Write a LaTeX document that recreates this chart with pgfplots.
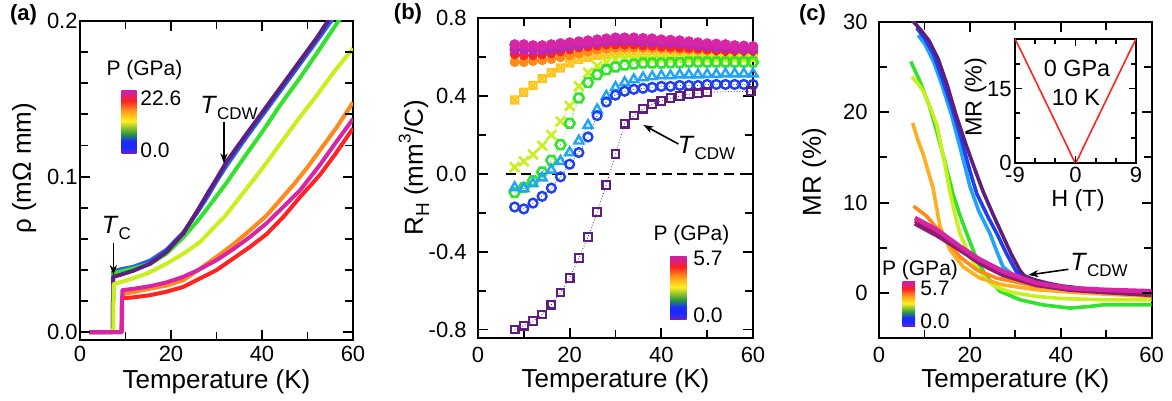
\documentclass[border=0pt]{standalone}
\usepackage{fontspec}
\setmainfont{Liberation Sans}
\usepackage{pgfplots}
\pgfplotsset{compat=1.18}
\usetikzlibrary{arrows.meta}

% line colours
\definecolor{cpur}{HTML}{5E1F7E}
\definecolor{cblu}{HTML}{2260EE}
\definecolor{cdblu}{HTML}{1F3FF0}
\definecolor{clbl}{HTML}{20A4F8}
\definecolor{cgrn}{HTML}{33E22C}
\definecolor{cyg}{HTML}{C8F01C}
\definecolor{cgold}{HTML}{FFC41E}
\definecolor{corg}{HTML}{FF8A1A}
\definecolor{clorg}{HTML}{FFAE22}
\definecolor{cred}{HTML}{FF2424}
\definecolor{cmag}{HTML}{D626A6}
\definecolor{cmgp}{HTML}{B52AB8}
\definecolor{cdmag}{HTML}{8E1C72}
% colour bar
\definecolor{cbv}{HTML}{7A20B8}
\definecolor{cbb}{HTML}{1A2AFF}
\definecolor{cbg}{HTML}{2A9A3A}
\definecolor{cby}{HTML}{FFF020}
\definecolor{cbo}{HTML}{FF9A1A}
\definecolor{cbr}{HTML}{FF2020}
\definecolor{cbm}{HTML}{D0209A}
\pgfdeclareverticalshading{pbar}{100bp}{color(0bp)=(cbv); color(25bp)=(cbv); color(30bp)=(cbb); color(35bp)=(cbb);
  color(41bp)=(cbg); color(51bp)=(cby); color(59bp)=(cbo); color(67bp)=(cbr); color(73bp)=(cbm); color(100bp)=(cbm)}

\pgfdeclareplotmark{hexa}{%
  \pgfpathmoveto{\pgfpointpolar{0}{\pgfplotmarksize}}%
  \pgfpathlineto{\pgfpointpolar{60}{\pgfplotmarksize}}%
  \pgfpathlineto{\pgfpointpolar{120}{\pgfplotmarksize}}%
  \pgfpathlineto{\pgfpointpolar{180}{\pgfplotmarksize}}%
  \pgfpathlineto{\pgfpointpolar{240}{\pgfplotmarksize}}%
  \pgfpathlineto{\pgfpointpolar{300}{\pgfplotmarksize}}%
  \pgfpathclose\pgfusepathqstroke}
\pgfdeclareplotmark{sqx}{%
  \pgfpathrectangle{\pgfpoint{-\pgfplotmarksize}{-\pgfplotmarksize}}{\pgfpoint{2\pgfplotmarksize}{2\pgfplotmarksize}}%
  \pgfpathmoveto{\pgfpoint{-\pgfplotmarksize}{-\pgfplotmarksize}}\pgfpathlineto{\pgfpoint{\pgfplotmarksize}{\pgfplotmarksize}}%
  \pgfpathmoveto{\pgfpoint{-\pgfplotmarksize}{\pgfplotmarksize}}\pgfpathlineto{\pgfpoint{\pgfplotmarksize}{-\pgfplotmarksize}}%
  \pgfusepathqstroke}

\newcommand{\Tsub}[1]{\textit{T}\raisebox{-0.45ex}{\fontsize{8.5}{9}\selectfont #1}}

\tikzset{tk/.style={black, line width=0.9pt}}

\pgfplotsset{
  panel/.style={
    scale only axis, anchor=south west,
    xmin=0, xmax=60,
    xtick={0,20,40,60}, xticklabels={0,20,40,60},
    minor xtick={10,30,50},
    tick align=inside, major tick length=5pt, minor tick length=4pt,
    tick style={black, line width=0.9pt},
    axis line style={line width=1pt},
    tick label style={font=\fontsize{11}{12}\selectfont},
    xlabel={Temperature (K)},
  },
  rline/.style={line width=2pt, line join=round},
  cline/.style={line width=1.8pt, line join=round},
  hall/.style={densely dotted, line width=0.4pt},
}

\begin{document}
\begin{tikzpicture}
\path[use as bounding box] (0,0) rectangle (586pt,200.5pt);

% ---------------- (a) resistivity
\begin{axis}[panel, at={(40pt,30.5pt)}, width=136.5pt, height=159.5pt,
  ymin=-0.005, ymax=0.2, ytick={0,0.1,0.2}, yticklabels={0.0,0.1,0.2},
  minor ytick={0.02,0.04,0.06,0.08,0.12,0.14,0.16,0.18},
  yticklabel style={inner xsep=0pt, xshift=-1pt},
  xticklabel style={inner ysep=0pt, yshift=-3pt},
  ylabel={ρ (mΩ mm)},
  xlabel style={at={(axis description cs:0.5,-0.130)}, anchor=center, font=\fontsize{13}{15}\selectfont},
  ylabel style={at={(axis description cs:-0.205,0.538)}, anchor=center, font=\fontsize{13}{15}\selectfont},
]
\addplot[rline, cblu] coordinates {(2,0) (7.2,0) (7.3,0.039) (9,0.0405) (11.7,0.042) (15.4,0.046) (19,0.053) (22.7,0.064) (26,0.078) (28,0.087) (30,0.097) (32.2,0.107) (36,0.123) (40,0.139) (44,0.155) (48,0.171) (52,0.187) (55.2,0.2) (57,0.207)};
\addplot[rline, cgrn] coordinates {(2,0) (7.2,0) (7.3,0.038) (9,0.039) (11.7,0.041) (15.4,0.044) (19,0.0505) (22.7,0.061) (26.4,0.0735) (29,0.0835) (32.2,0.096) (36,0.112) (40,0.1285) (44,0.146) (48,0.162) (52,0.179) (56.8,0.2) (58,0.205)};
\addplot[rline, cpur] coordinates {(2,0) (7.2,0) (7.3,0.0356) (9,0.037) (11.7,0.0395) (15.4,0.044) (19,0.0516) (22.7,0.0635) (26,0.079) (28,0.089) (30,0.0985) (32.2,0.1095) (36,0.125) (40,0.141) (44,0.157) (48,0.173) (52,0.189) (54.5,0.2) (56,0.206)};
\addplot[rline, cyg] coordinates {(2,0) (7.3,0) (7.4,0.031) (10,0.033) (15,0.038) (19,0.044) (23,0.051) (26.4,0.058) (29,0.066) (32,0.075) (36,0.090) (40,0.105) (44,0.121) (48,0.137) (52,0.152) (56,0.168) (60,0.1824)};
\addplot[rline, corg] coordinates {(2,0) (9.2,0) (9.3,0.0245) (12,0.026) (15.4,0.028) (19,0.030) (22.7,0.0334) (26,0.040) (30,0.0484) (33.5,0.056) (37.4,0.0656) (41,0.075) (44,0.085) (47,0.095) (50,0.106) (53,0.118) (56.5,0.132) (60,0.1477)};
\addplot[rline, cred] coordinates {(2,0) (9.1,0) (9.2,0.0217) (12,0.0225) (15.4,0.0238) (19,0.026) (22.7,0.0291) (26,0.034) (30,0.0399) (33.5,0.047) (37.4,0.0549) (41,0.063) (44.7,0.0741) (48.4,0.087) (52.7,0.101) (56,0.114) (60,0.131)};
\addplot[rline, cmag] coordinates {(2,0) (9.2,0) (9.3,0.027) (12,0.028) (15.4,0.0296) (19,0.032) (22.7,0.0356) (26,0.040) (30,0.0463) (33.5,0.053) (37.4,0.0613) (41,0.070) (44.7,0.0806) (48.4,0.0913) (52.7,0.1074) (56,0.121) (60,0.137)};
% tick marks on all four sides
\pgfplotsinvokeforeach{20,40}{\draw[tk] (axis cs:#1,-0.005) -- ++(0pt,5pt); \draw[tk] (axis cs:#1,0.2) -- ++(0pt,-5pt);}
\pgfplotsinvokeforeach{10,30,50}{\draw[tk] (axis cs:#1,-0.005) -- ++(0pt,4pt); \draw[tk] (axis cs:#1,0.2) -- ++(0pt,-4pt);}
\pgfplotsinvokeforeach{0,0.1}{\draw[tk] (axis cs:0,#1) -- ++(5pt,0pt); \draw[tk] (axis cs:60,#1) -- ++(-5pt,0pt);}
\pgfplotsinvokeforeach{0.02,0.04,0.06,0.08,0.12,0.14,0.16,0.18}{\draw[tk] (axis cs:0,#1) -- ++(4pt,0pt); \draw[tk] (axis cs:60,#1) -- ++(-4pt,0pt);}
\end{axis}

% ---------------- (b) Hall coefficient
\begin{axis}[panel, at={(239pt,31.35pt)}, width=137.5pt, height=160pt,
  ymin=-0.845, ymax=0.8, ytick={-0.8,-0.4,0,0.4,0.8}, yticklabels={-0.8,-0.4,0.0,0.4,0.8},
  minor ytick={-0.6,-0.2,0.2,0.6},
  yticklabel style={inner xsep=0pt, xshift=-5.5pt},
  xticklabel style={inner ysep=0pt, yshift=-4pt},
  ylabel={R\raisebox{-0.45ex}{\fontsize{9.5}{10}\selectfont H} (mm\raisebox{0.9ex}{\fontsize{8.5}{9}\selectfont 3}/C)},
  xlabel style={at={(axis description cs:0.5,-0.134)}, anchor=center, font=\fontsize{13}{15}\selectfont},
  ylabel style={at={(axis description cs:-0.233,0.533)}, anchor=center, font=\fontsize{13}{15}\selectfont},
]
\addplot[hall, cgold, mark=sqx, mark size=1.8pt, mark options={solid, line width=1pt}] coordinates {(8,0.38) (10,0.42) (12,0.455) (14,0.49) (16,0.52) (18,0.545) (20,0.57) (22,0.59) (24,0.60) (26,0.61) (28,0.615) (30,0.62) (32,0.62) (34,0.62) (36,0.62) (38,0.62) (40,0.62) (42,0.62) (44,0.615) (46,0.615) (48,0.61) (50,0.61) (52,0.61) (54,0.605) (56,0.605) (58,0.60) (60,0.60)};
\addplot[hall, corg, mark=*, mark size=2.3pt, mark options={solid}] coordinates {(8,0.575) (10,0.575) (12,0.58) (14,0.585) (16,0.59) (18,0.60) (20,0.61) (22,0.62) (24,0.63) (26,0.64) (28,0.645) (30,0.65) (32,0.65) (34,0.65) (36,0.65) (38,0.648) (40,0.645) (42,0.643) (44,0.64) (46,0.638) (48,0.635) (50,0.633) (52,0.63) (54,0.628) (56,0.625) (58,0.622) (60,0.62)};
\addplot[hall, cred, mark=*, mark size=2.3pt, mark options={solid}] coordinates {(8,0.615) (10,0.61) (12,0.61) (14,0.615) (16,0.62) (18,0.63) (20,0.64) (22,0.65) (24,0.655) (26,0.66) (28,0.665) (30,0.665) (32,0.665) (34,0.665) (36,0.66) (38,0.66) (40,0.655) (42,0.653) (44,0.65) (46,0.648) (48,0.645) (50,0.64) (52,0.635) (54,0.63) (56,0.625) (58,0.61) (60,0.625)};
\addplot[hall, cmgp, mark=*, mark size=2.4pt, mark options={solid}] coordinates {(8,0.64) (10,0.638) (12,0.635) (14,0.637) (16,0.64) (18,0.648) (20,0.655) (22,0.662) (24,0.67) (26,0.675) (28,0.68) (30,0.683) (32,0.685) (34,0.683) (36,0.68) (38,0.678) (40,0.675) (42,0.672) (44,0.67) (46,0.665) (48,0.66) (50,0.655) (52,0.65) (54,0.648) (56,0.645) (58,0.642) (60,0.64)};
\addplot[hall, cmag, mark=*, mark size=2.5pt, mark options={solid}] coordinates {(8,0.665) (10,0.665) (12,0.66) (14,0.66) (16,0.665) (18,0.67) (20,0.675) (22,0.68) (24,0.685) (26,0.69) (28,0.695) (30,0.70) (32,0.70) (34,0.70) (36,0.697) (38,0.695) (40,0.69) (42,0.688) (44,0.685) (46,0.68) (48,0.675) (50,0.67) (52,0.668) (54,0.665) (56,0.66) (58,0.658) (60,0.655)};
\addplot[hall, cyg, mark=x, mark size=3.4pt, mark options={solid, line width=1.3pt}] coordinates {(8,0.035) (10,0.065) (12,0.10) (14,0.145) (16,0.20) (18,0.27) (20,0.35) (22,0.45) (24,0.52) (26,0.555) (28,0.575) (30,0.585) (32,0.59) (34,0.59) (36,0.59) (38,0.59) (40,0.59) (42,0.59) (44,0.59) (46,0.59) (48,0.59) (50,0.59) (52,0.59) (54,0.59) (56,0.59) (58,0.59) (60,0.59)};
\addplot[hall, cgrn, mark=hexa, mark size=2.5pt, mark options={solid, line width=1.3pt}] coordinates {(8,-0.095) (10,-0.07) (12,-0.035) (14,0.01) (16,0.07) (18,0.15) (20,0.26) (22,0.39) (24,0.47) (26,0.51) (28,0.535) (30,0.55) (32,0.56) (34,0.565) (36,0.57) (38,0.57) (40,0.57) (42,0.572) (44,0.572) (46,0.575) (48,0.575) (50,0.575) (52,0.575) (54,0.575) (56,0.575) (58,0.575) (60,0.575)};
\addplot[hall, clbl, mark=triangle, mark size=2.6pt, mark options={solid, line width=1.2pt}] coordinates {(8,-0.07) (10,-0.075) (12,-0.05) (14,-0.02) (16,0.02) (18,0.065) (20,0.11) (22,0.17) (24,0.25) (26,0.33) (28,0.40) (30,0.445) (32,0.47) (34,0.485) (36,0.495) (38,0.50) (40,0.505) (42,0.505) (44,0.51) (46,0.51) (48,0.51) (50,0.512) (52,0.512) (54,0.515) (56,0.515) (58,0.515) (60,0.515)};
\addplot[hall, cdblu, mark=o, mark size=2.2pt, mark options={solid, line width=1.2pt}] coordinates {(8,-0.17) (10,-0.18) (12,-0.15) (14,-0.115) (16,-0.073) (18,-0.015) (20,0.05) (22,0.11) (24,0.19) (26,0.30) (28,0.37) (30,0.405) (32,0.425) (34,0.435) (36,0.44) (38,0.445) (40,0.45) (42,0.45) (44,0.455) (46,0.455) (48,0.455) (50,0.46) (52,0.46) (54,0.46) (56,0.46) (58,0.46) (60,0.46)};
\addplot[hall, cpur, mark=square, mark size=1.9pt, mark options={solid, line width=1.1pt}] coordinates {(8,-0.80) (10,-0.78) (12,-0.757) (14,-0.723) (16,-0.672) (18,-0.61) (20,-0.535) (22,-0.432) (24,-0.324) (26,-0.196) (28,-0.056) (30,0.102) (32,0.258) (34,0.30) (36,0.335) (38,0.358) (40,0.375) (42,0.39) (44,0.40) (46,0.41) (48,0.415) (50,0.42) (59.5,0.425)};
\addplot[black, line width=1.1pt, dash pattern=on 5pt off 2.8pt] coordinates {(6,0) (58,0)};
\pgfplotsinvokeforeach{20,40}{\draw[tk] (axis cs:#1,-0.845) -- ++(0pt,5pt); \draw[tk] (axis cs:#1,0.8) -- ++(0pt,-5pt);}
\pgfplotsinvokeforeach{10,30,50}{\draw[tk] (axis cs:#1,-0.845) -- ++(0pt,4pt); \draw[tk] (axis cs:#1,0.8) -- ++(0pt,-4pt);}
\pgfplotsinvokeforeach{-0.8,-0.4,0,0.4}{\draw[tk] (axis cs:0,#1) -- ++(5pt,0pt); \draw[tk] (axis cs:60,#1) -- ++(-5pt,0pt);}
\pgfplotsinvokeforeach{-0.6,-0.2,0.2,0.6}{\draw[tk] (axis cs:0,#1) -- ++(4pt,0pt); \draw[tk] (axis cs:60,#1) -- ++(-4pt,0pt);}
\end{axis}

% ---------------- (c) magnetoresistance
\begin{axis}[panel, at={(439.5pt,31.35pt)}, width=136.35pt, height=158.3pt,
  ymin=-5, ymax=30, ytick={0,10,20,30}, yticklabels={0,10,20,30},
  minor ytick={5,15,25},
  yticklabel style={inner xsep=0pt, xshift=-5.5pt},
  xticklabel style={inner ysep=0pt, yshift=-4pt},
  ylabel={MR (\%)},
  xlabel style={at={(axis description cs:0.5,-0.133)}, anchor=center, font=\fontsize{13}{15}\selectfont},
  ylabel style={at={(axis description cs:-0.238,0.525)}, anchor=center, font=\fontsize{13}{15}\selectfont},
]
\addplot[cline, cgrn] coordinates {(7,25.6) (9,23.4) (11,20.8) (12.7,17.9) (14.5,14.5) (16.3,10.9) (17.8,8.6) (19.3,6.6) (21.5,3.7) (23.7,1.8) (26.6,0.2) (31,-0.74) (36,-1.3) (42,-1.66) (46,-1.5) (49.3,-1.3) (55,-1.3) (60,-1.3)};
\addplot[cline, cyg] coordinates {(7.2,23.9) (8.5,23.2) (9.75,22.3) (11.2,20.6) (12.7,18.6) (14.2,15.0) (15.6,11.2) (16.8,8.5) (17.8,6.6) (20,4.0) (23,1.8) (25,0.9) (27.3,0.37) (30,0) (34.7,-0.37) (40,-0.6) (49.3,-0.74) (60,-0.74)};
\addplot[cline, clorg] coordinates {(7.4,18.8) (8.5,17.0) (9.75,15.3) (11.9,11.6) (13.4,7.4) (15.6,4.8) (18.5,2.9) (22.2,1.65) (27.3,0.9) (34.7,0.37) (45,0) (60,-0.37)};
\addplot[cline, corg] coordinates {(7.6,9.6) (10.5,8.5) (14.2,6.3) (17.8,4.0) (21.4,2.6) (25.9,1.65) (34.7,0.74) (45,0.3) (60,0)};
\addplot[cline, clbl] coordinates {(8.6,28.5) (10,27.6) (12,25.6) (14,22.8) (16,19.6) (18,15.8) (20,11.8) (22,9.0) (24.4,6.6) (26,4.5) (27.3,2.9) (29.5,2.0) (32,1.4) (36,0.9) (40,0.6) (45,0.4) (50,0.2) (55,0.1) (60,0)};
\addplot[cline, cdblu] coordinates {(8.3,29.3) (10,28.2) (12,26.4) (14,23.6) (16,20.6) (18,17.2) (20,13.5) (21.5,11.0) (24,8.4) (26,6.5) (28,4.4) (30.3,2.3) (33.2,1.5) (36,1.1) (40,0.7) (45,0.45) (50,0.3) (55,0.15) (60,0.05)};
\addplot[cline, cpur] coordinates {(7.2,30.2) (9,29.2) (11,27.9) (13,25.9) (15,23.0) (17,19.6) (19,16.6) (21,13.8) (23,11.1) (25,8.8) (27,6.6) (29,4.4) (31,2.5) (32,1.9) (34,1.5) (37,1.1) (40,0.8) (45,0.5) (50,0.3) (55,0.2) (60,0.1)};
\addplot[line width=2.3pt, cred] coordinates {(7.9,8.0) (12.7,6.7) (17.8,5.0) (22.2,3.5) (27.3,2.2) (34.7,1.0) (42,0.45) (50,0.2) (60,0.0)};
\addplot[line width=2.3pt, cdmag] coordinates {(7.9,7.7) (12.7,6.4) (17.8,4.8) (22.2,3.3) (27.3,2.0) (34.7,0.9) (42,0.37) (50,0.1) (60,-0.2)};
\addplot[line width=2.3pt, cmag] coordinates {(7.9,8.3) (12.7,7.0) (17.8,5.15) (22.2,3.7) (27.3,2.4) (34.7,1.1) (42,0.55) (50,0.35) (60,0.2)};
\pgfplotsinvokeforeach{20,40}{\draw[tk] (axis cs:#1,-5) -- ++(0pt,5pt); \draw[tk] (axis cs:#1,30) -- ++(0pt,-5pt);}
\pgfplotsinvokeforeach{10,30,50}{\draw[tk] (axis cs:#1,-5) -- ++(0pt,4pt); \draw[tk] (axis cs:#1,30) -- ++(0pt,-4pt);}
\pgfplotsinvokeforeach{0,10,20}{\draw[tk] (axis cs:0,#1) -- ++(5pt,0pt); \draw[tk] (axis cs:60,#1) -- ++(-5pt,0pt);}
\pgfplotsinvokeforeach{5,15,25}{\draw[tk] (axis cs:0,#1) -- ++(4pt,0pt); \draw[tk] (axis cs:60,#1) -- ++(-4pt,0pt);}
\end{axis}

% inset of (c)
\begin{axis}[scale only axis, anchor=south west, at={(507.5pt,119pt)}, width=60.5pt, height=62pt,
  xmin=-9, xmax=9, ymin=0, ymax=25,
  xtick={-9,0,9}, xticklabels={-9,0,9}, minor xtick={-6,-3,3,6},
  ytick={0,15}, yticklabels={0,15}, minor ytick={5,10,20},
  tick align=inside, major tick length=3.5pt, minor tick length=2.5pt,
  axis line style={line width=0.9pt}, tick style={black, line width=0.8pt},
  tick label style={font=\fontsize{11}{12}\selectfont},
  yticklabel style={inner xsep=0pt, xshift=-1.5pt},
  xticklabel style={inner ysep=0pt, yshift=-2pt},
  xlabel={H (T)}, ylabel={MR (\%)},
  xlabel style={at={(axis description cs:0.52,-0.298)}, anchor=center, font=\fontsize{11.7}{13}\selectfont},
  ylabel style={at={(axis description cs:-0.325,0.532)}, anchor=center, font=\fontsize{11.7}{13}\selectfont},
  axis background/.style={fill=white},
]
\addplot[cred, line width=0.8pt] coordinates {(-9,25) (-8,22.3) (-7,19.5) (-6,16.7) (-5,13.9) (-4,11.1) (-3,8.3) (-2,5.5) (-1,2.7) (-0.5,1.2) (0,0) (0.5,1.2) (1,2.7) (2,5.5) (3,8.3) (4,11.1) (5,13.9) (6,16.7) (7,19.5) (8,22.3) (9,25)};
\pgfplotsinvokeforeach{0}{\draw[tk] (axis cs:#1,0) -- ++(0pt,3.5pt); \draw[tk] (axis cs:#1,25) -- ++(0pt,-3.5pt);}
\pgfplotsinvokeforeach{-6,-3,3,6}{\draw[tk] (axis cs:#1,0) -- ++(0pt,2.5pt); \draw[tk] (axis cs:#1,25) -- ++(0pt,-2.5pt);}
\pgfplotsinvokeforeach{15}{\draw[tk] (axis cs:-9,#1) -- ++(3.5pt,0pt); \draw[tk] (axis cs:9,#1) -- ++(-3.5pt,0pt);}
\pgfplotsinvokeforeach{5,10,20}{\draw[tk] (axis cs:-9,#1) -- ++(2.5pt,0pt); \draw[tk] (axis cs:9,#1) -- ++(-2.5pt,0pt);}
\end{axis}

% panel letters
\node[font=\bfseries\fontsize{11}{12}\selectfont] at (11.75pt,193pt) {(a)};
\node[font=\bfseries\fontsize{11}{12}\selectfont] at (204pt,193.5pt) {(b)};
\node[font=\bfseries\fontsize{11}{12}\selectfont] at (406.25pt,193.25pt) {(c)};

% colour bars and pressure labels
\begin{scope}[every node/.style={font=\fontsize{10.5}{12}\selectfont}]
\node at (72.25pt,165.5pt) {P (GPa)};
\shade[shading=pbar] (60.8pt,123.5pt) rectangle (68.3pt,155.2pt);
\node[anchor=west, inner sep=0pt] at (70pt,151.3pt) {22.6};
\node[anchor=west, inner sep=0pt] at (70pt,125.5pt) {0.0};

\node at (345.75pt,83pt) {P (GPa)};
\shade[shading=pbar] (335pt,40.5pt) rectangle (343.3pt,72.2pt);
\node[anchor=west, inner sep=0pt] at (346.5pt,71.5pt) {5.7};
\node[anchor=west, inner sep=0pt] at (346.5pt,43pt) {0.0};

\node at (460pt,65.5pt) {P (GPa)};
\shade[shading=pbar] (451.3pt,37.2pt) rectangle (457.5pt,59.7pt);
\node[anchor=west, inner sep=0pt] at (460pt,56.5pt) {5.7};
\node[anchor=west, inner sep=0pt] at (460pt,39.7pt) {0.0};
\end{scope}

% annotations
\begin{scope}[every node/.style={font=\fontsize{12.5}{14}\selectfont}]
\node at (114.5pt,146.5pt) {\Tsub{CDW}};
\node at (58.25pt,86.5pt) {\Tsub{C}};
\node at (353.25pt,126.5pt) {\Tsub{CDW}};
\node at (549.5pt,68pt) {\Tsub{CDW}};
\end{scope}
\begin{scope}[line width=0.8pt, -{Stealth[length=5pt,width=3.6pt]}]
\draw (112pt,139.6pt) -- (112pt,118.8pt);
\draw (56.7pt,78.8pt) -- (56.7pt,63pt);
\draw (339.2pt,128.5pt) -- (321.7pt,138pt);
\draw (534.2pt,65.85pt) -- (514.2pt,63pt);
\end{scope}

\node[font=\fontsize{11.7}{13}\selectfont] at (538.5pt,166.5pt) {0 GPa};
\node[font=\fontsize{11.7}{13}\selectfont] at (538pt,152pt) {10 K};
\end{tikzpicture}
\end{document}
